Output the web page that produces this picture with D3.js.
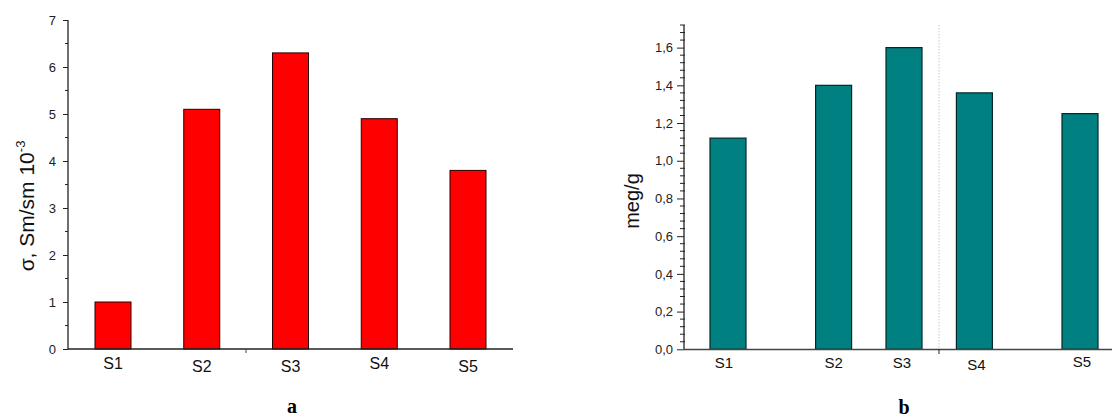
<!DOCTYPE html>
<html><head><meta charset="utf-8">
<script src="https://cdn.jsdelivr.net/npm/d3@7"></script>
<style>body{margin:0;background:#fff}svg{display:block}</style>
</head><body>
<svg id="c" width="1112" height="418"></svg>
<script>
const categories = ["S1","S2","S3","S4","S5"];
const valuesA = [1.0, 5.1, 6.3, 4.9, 3.8];
const valuesB = [1.12, 1.40, 1.60, 1.36, 1.25];
const xPosB = [0, 3, 5, 7, 10];
const ticksA = [0,1,2,3,4,5,6,7];
const ticksB = [0,0.2,0.4,0.6,0.8,1.0,1.2,1.4,1.6];
const captionA = "a", captionB = "b";

const svg = d3.select("#c");
const font = "Arial, 'Liberation Sans', sans-serif";
const bw = 36;

// ---------- Chart a ----------
const ga = svg.append("g");
const yA = d3.scaleLinear().domain([0,7]).range([349,20]);
const xA = d3.scalePoint().domain(categories).range([113,468]);
ga.selectAll("rect").data(categories).join("rect")
  .attr("x", d => xA(d) - bw/2).attr("width", bw)
  .attr("y", (d,i) => yA(valuesA[i])).attr("height", (d,i) => yA(0) - yA(valuesA[i]))
  .attr("fill", "#ff0000").attr("stroke", "#2a0000").attr("stroke-width", 1);
const axA = ga.append("g").attr("transform","translate(68,0)")
  .call(d3.axisLeft(yA).tickValues(ticksA).tickSize(5).tickPadding(7).tickFormat(d3.format("d")));
axA.select(".domain").attr("stroke","#222").attr("stroke-width",1.3).attr("d","M0,20V349");
axA.selectAll(".tick line").attr("stroke","#222");
axA.selectAll(".tick text").attr("font-family",font).attr("font-size",13).attr("fill","#222");
ga.append("g").selectAll("line").data(d3.range(0.5,7,1)).join("line")
  .attr("x1",65).attr("x2",68).attr("y1",d=>yA(d)).attr("y2",d=>yA(d)).attr("stroke","#222");
ga.append("line").attr("x1",68).attr("x2",513).attr("y1",349).attr("y2",349).attr("stroke","#222").attr("stroke-width",1.5);
ga.append("line").attr("x1",246).attr("x2",246).attr("y1",349).attr("y2",353).attr("stroke","#444");
ga.selectAll(".xl").data(categories).join("text").attr("class","xl")
  .attr("x", d => xA(d)).attr("y", (d,i)=> [369,372,372,369,372][i])
  .attr("text-anchor","middle").attr("font-family",font).attr("font-size",16).attr("fill","#111").text(d=>d);
const lblA = ga.append("text").attr("transform","translate(34,206) rotate(-90)")
  .attr("text-anchor","middle").attr("font-family",font).attr("font-size",21).attr("fill","#111");
lblA.append("tspan").text("σ, Sm/sm 10");
lblA.append("tspan").attr("dy",-9).attr("font-size",13).text("-3");
ga.append("text").attr("x",292).attr("y",413).attr("text-anchor","middle")
  .attr("font-family","'Liberation Serif', 'Times New Roman', serif").attr("font-weight","bold").attr("font-size",20).text(captionA);

// ---------- Chart b ----------
const gb = svg.append("g");
const yB = d3.scaleLinear().domain([0,1.72]).range([349.3,25]);
const xB = d3.scaleLinear().domain([0,10]).range([728,1080]);
gb.append("line").attr("x1",939).attr("x2",939).attr("y1",25).attr("y2",349)
  .attr("stroke","#c8c8c8").attr("stroke-dasharray","1.5,1.5");
gb.selectAll("rect").data(categories).join("rect")
  .attr("x",(d,i)=> xB(xPosB[i]) - bw/2).attr("width",bw)
  .attr("y",(d,i)=> yB(valuesB[i])).attr("height",(d,i)=> yB(0)-yB(valuesB[i]))
  .attr("fill","#008080").attr("stroke","#002828").attr("stroke-width",1.2);
const axB = gb.append("g").attr("transform","translate(684,0)")
  .call(d3.axisLeft(yB).tickValues(ticksB).tickSize(7).tickPadding(4).tickFormat(d => d3.format(".1f")(d).replace(".",",")));
axB.select(".domain").attr("stroke","#222").attr("stroke-width",1.3).attr("d","M0,25V349.3");
axB.selectAll(".tick line").attr("stroke","#222");
axB.selectAll(".tick text").attr("font-family",font).attr("font-size",13).attr("fill","#222");
gb.append("g").selectAll("line").data(d3.range(1,44).filter(k=>k%5!==0).map(k=>k*0.04)).join("line")
  .attr("x1",680).attr("x2",685).attr("y1",d=>yB(d)).attr("y2",d=>yB(d)).attr("stroke","#222");
gb.append("line").attr("x1",684).attr("x2",1112).attr("y1",349.5).attr("y2",349.5).attr("stroke","#444").attr("stroke-width",1.3);
gb.append("line").attr("x1",939).attr("x2",939).attr("y1",349).attr("y2",354).attr("stroke","#222");
gb.selectAll(".xl").data(categories).join("text").attr("class","xl")
  .attr("x",(d,i)=> xB(xPosB[i]) + [-4,0,-2,2,2][i]).attr("y",(d,i)=>[368,368,368,370,367][i])
  .attr("text-anchor","middle").attr("font-family",font).attr("font-size",15).attr("fill","#111").text(d=>d);
gb.append("text").attr("transform","translate(639,201) rotate(-90)")
  .attr("text-anchor","middle").attr("font-family",font).attr("font-size",20).attr("fill","#111").text("meg/g");
gb.append("text").attr("x",904).attr("y",414).attr("text-anchor","middle")
  .attr("font-family","'Liberation Serif', 'Times New Roman', serif").attr("font-weight","bold").attr("font-size",20).text(captionB);
</script>
</body></html>
